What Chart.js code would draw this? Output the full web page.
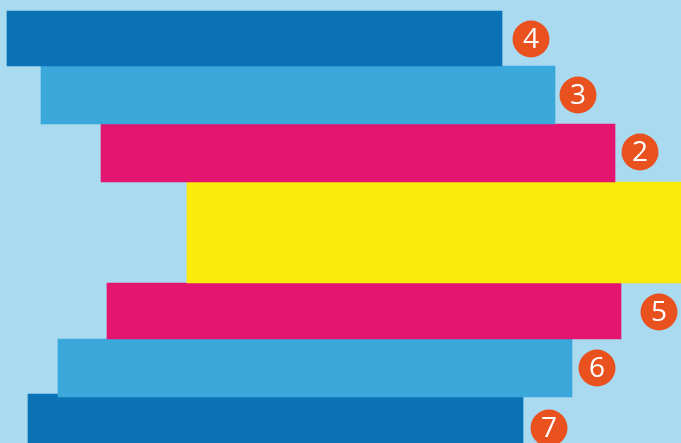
<!DOCTYPE html>
<html>
<head>
<meta charset="utf-8">
<script src="https://cdn.jsdelivr.net/npm/chart.js@4/dist/chart.umd.min.js"></script>
<style>
  html, body { margin: 0; padding: 0; background: #a9daf0; }
  #wrap { width: 681px; height: 443px; }
</style>
</head>
<body>
<div id="wrap"><canvas id="c" width="681" height="443"></canvas></div>
<script>
// ---- data ----
const rowLabels  = ['4', '3', '2', '1', '5', '6', '7'];
const barStart   = [7, 41, 101, 187, 107, 58, 28];
const barEnd     = [502, 555, 615, 700, 621, 572, 523];
const rowTop     = [11, 66, 124, 182, 283, 339, 394];
const rowBottom  = [66, 124, 182, 283, 339, 397, 452];
const badgeX     = [531, 578, 640, null, 659, 597, 549];
const badgeY     = [39, 95, 152, null, 312, 368, 428];

// ---- style ----
const rowColors = ['#0b72b5', '#3ba8db', '#e31571', '#fcea0c', '#e31571', '#3ba8db', '#0b72b5'];
const badgeColor = '#e9511f';

const barDatasets = rowLabels.map((lab, i) => ({
  type: 'bar',
  label: 'Row ' + lab,
  data: [{ x: [barStart[i], barEnd[i]], y: (rowTop[i] + rowBottom[i]) / 2 }],
  backgroundColor: rowColors[i],
  borderWidth: 0,
  barThickness: rowBottom[i] - rowTop[i],
  grouped: false,
  order: i + 1
}));

const badgePoints = [];
const badgeText = [];
rowLabels.forEach((lab, i) => {
  if (badgeX[i] !== null) {
    badgePoints.push({ x: badgeX[i], y: badgeY[i] });
    badgeText.push(lab);
  }
});

const badgeDataset = {
  type: 'scatter',
  label: 'badges',
  indexAxis: 'x',
  data: badgePoints,
  pointRadius: 18.5,
  pointHoverRadius: 18.5,
  pointBackgroundColor: badgeColor,
  pointBorderWidth: 0,
  showLine: false,
  clip: false,
  order: 0
};

const bgPlugin = {
  id: 'bg',
  beforeDraw(chart) {
    const ctx = chart.ctx;
    ctx.save();
    ctx.fillStyle = '#a9daf0';
    ctx.fillRect(0, 0, chart.width, chart.height);
    ctx.restore();
  }
};

const badgeLabelPlugin = {
  id: 'badgeLabels',
  afterDatasetsDraw(chart) {
    const idx = chart.data.datasets.indexOf(badgeDataset);
    const meta = chart.getDatasetMeta(idx);
    const ctx = chart.ctx;
    ctx.save();
    ctx.fillStyle = '#ffffff';
    ctx.font = '28px "Open Sans", "Noto Sans", sans-serif';
    ctx.textAlign = 'center';
    ctx.textBaseline = 'middle';
    meta.data.forEach((pt, j) => {
      ctx.fillText(badgeText[j], pt.x, pt.y + 1);
    });
    ctx.restore();
  }
};

new Chart(document.getElementById('c'), {
  data: { datasets: [badgeDataset, ...barDatasets] },
  options: {
    indexAxis: 'y',
    responsive: false,
    animation: false,
    layout: { padding: 0, autoPadding: false },
    plugins: { legend: { display: false }, tooltip: { enabled: false } },
    events: [],
    scales: {
      x: { type: 'linear', min: 0, max: 681, offset: false, display: false },
      y: { type: 'linear', min: 0, max: 443, reverse: true, offset: false, display: false }
    }
  },
  plugins: [bgPlugin, badgeLabelPlugin]
});
</script>
</body>
</html>
